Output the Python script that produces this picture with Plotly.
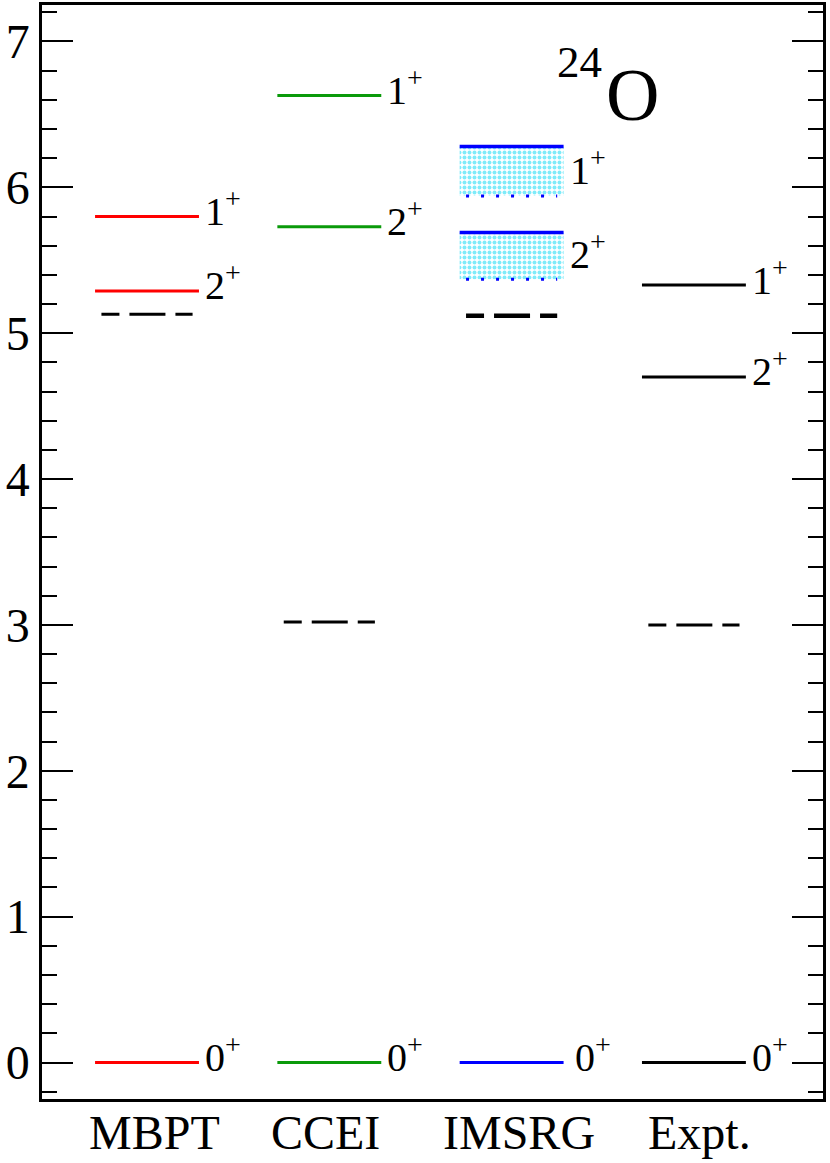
import plotly.graph_objects as go

# level energies (MeV), ordered 0+, 2+, 1+
methods = ["MBPT", "CCEI", "IMSRG", "Expt."]
method_label_pos = [1.04, 1.98, 3.04, 4.03]
spins = ["0<sup>+</sup>", "2<sup>+</sup>", "1<sup>+</sup>"]
mbpt = [0.0, 5.29, 5.80]
ccei = [0.0, 5.73, 6.63]
imsrg_top = [0.0, 5.69, 6.28]
imsrg_bottom = [0.0, 5.37, 5.94]
expt = [0.0, 4.70, 5.33]
# dashed levels (one per column)
dashed = [5.13, 3.02, 5.12, 3.00]

FONT = "Liberation Serif"
HW = 0.285   # half width of a level
HWD = 0.25   # half width of dashed / dotted levels

fig = go.Figure()


def level(x0, y, color, width=3, dash="solid", hw=HW):
    fig.add_trace(go.Scatter(
        x=[x0 - hw, x0 + hw], y=[y, y], mode="lines",
        line=dict(color=color, width=width, dash=dash),
        hoverinfo="skip", showlegend=False
    ))


def label(x0, y, text, yshift=8, xshift=4):
    fig.add_annotation(
        x=x0 + HW, y=y, text=text, showarrow=False,
        xanchor="left", yanchor="middle", xshift=xshift, yshift=yshift,
        font=dict(family=FONT, size=40, color="black")
    )


cols = {1: (mbpt, "#ff0000"), 2: (ccei, "#0a9a0a"), 4: (expt, "black")}
for pos, (vals, color) in cols.items():
    for v, s in zip(vals, spins):
        level(pos, v, color)
        label(pos, v, s)

# IMSRG bands
for top, bot, s in zip(imsrg_top, imsrg_bottom, spins):
    if top != bot:
        fig.add_trace(go.Scatter(
            x=[3 - HW, 3 + HW, 3 + HW, 3 - HW, 3 - HW],
            y=[top, top, bot, bot, top],
            mode="lines", line=dict(width=0), fill="toself",
            fillcolor="rgba(0,0,0,0)",
            fillpattern=dict(shape=".", fgcolor="#00d8f4", bgcolor="white",
                             size=5, solidity=0.5),
            hoverinfo="skip", showlegend=False
        ))
        level(3, bot, "#0000ff", width=3, dash="3px,12px", hw=HWD)
        level(3, top, "#0000ff", width=3.5)
        label(3, (top + bot) / 2, s, yshift=4)
    else:
        level(3, top, "#0000ff")
        label(3, top, s, xshift=9)

# dashed levels
for i, v in enumerate(dashed):
    w = 4.5 if i == 2 else 3
    level(i + 1, v, "black", width=w, dash="18px,10px,36px,10px,18px,100px", hw=HWD)

# method names under the axis
for xp, name in zip(method_label_pos, methods):
    fig.add_annotation(x=xp, y=0, yref="paper", text=name, showarrow=False,
                       xanchor="center", yanchor="middle", yshift=-33,
                       font=dict(family=FONT, size=48, color="black"))

# nucleus label
fig.add_annotation(x=3.372, y=6.86, text="24", showarrow=False,
                   font=dict(family=FONT, size=45, color="black"))
fig.add_annotation(x=3.663, y=6.635, text="O", showarrow=False,
                   font=dict(family=FONT, size=74, color="black"))

fig.update_layout(
    width=830, height=1163,
    margin=dict(l=42, r=7, t=5, b=64),
    plot_bgcolor="white", paper_bgcolor="white",
    font=dict(family=FONT, color="black"),
)
fig.update_xaxes(
    range=[0.424, 4.708], showgrid=False, zeroline=False, automargin=False,
    showline=True, linecolor="black", linewidth=2.5, mirror=True,
    showticklabels=False, ticks="",
)
fig.update_yaxes(
    range=[-0.25, 7.25], showgrid=False, zeroline=False, automargin=False,
    showline=True, linecolor="black", linewidth=2.5, mirror="ticks",
    tickvals=[0, 1, 2, 3, 4, 5, 6, 7], ticks="inside", ticklen=31,
    tickwidth=2, tickcolor="black",
    minor=dict(dtick=0.2, ticks="inside", ticklen=15, tickwidth=2,
               tickcolor="black", showgrid=False),
    tickfont=dict(family=FONT, size=48, color="black"),
)

fig.write_html(
    "out.html",
    config={"displayModeBar": False},
    post_script="document.body.style.margin='0';document.body.style.overflow='hidden';",
)
